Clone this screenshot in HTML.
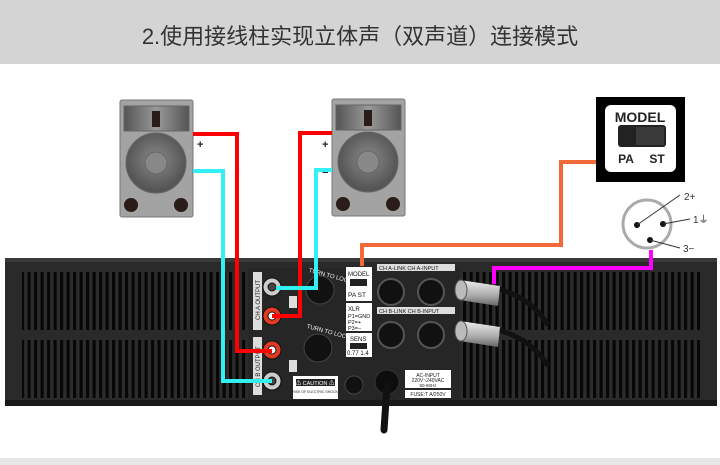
<!DOCTYPE html>
<html><head><meta charset="utf-8"><style>
html,body{margin:0;padding:0;width:720px;height:465px;overflow:hidden;background:#fff}
svg{display:block}
text{font-family:"Liberation Sans","Noto Sans CJK SC",sans-serif}
</style></head><body>
<svg width="720" height="465" viewBox="0 0 720 465" xmlns="http://www.w3.org/2000/svg">
<defs>
<pattern id="vent" x="0" y="0" width="6.5" height="10" patternUnits="userSpaceOnUse">
<rect width="6.5" height="10" fill="#2c2c2c"/><rect x="1.5" width="3.2" height="10" fill="#070707"/>
</pattern>
<radialGradient id="woof" cx="0.5" cy="0.45" r="0.5"><stop offset="0" stop-color="#8a8a8a"/><stop offset="1" stop-color="#555"/></radialGradient>
<linearGradient id="horn" x1="0" x2="1"><stop offset="0" stop-color="#555"/><stop offset="0.5" stop-color="#999"/><stop offset="1" stop-color="#555"/></linearGradient>
<linearGradient id="plug" x1="0" y1="0" x2="0" y2="1"><stop offset="0" stop-color="#eee"/><stop offset="0.6" stop-color="#aaa"/><stop offset="1" stop-color="#666"/></linearGradient>
</defs>
<rect width="720" height="64" fill="#d4d4d4"/>
<text x="360" y="44" font-size="22" fill="#333" text-anchor="middle">2.使用接线柱实现立体声（双声道）连接模式</text>
<rect y="458" width="720" height="7" fill="#e6e6e6"/>

<!-- speakers -->
<g id="spk">
<rect x="120" y="100" width="73" height="117" rx="2" fill="#a3a3a3" stroke="#777"/>
<rect x="124" y="106" width="65" height="25" fill="url(#horn)" stroke="#666"/>
<rect x="152" y="111" width="8" height="16" fill="#2a1c18"/>
<circle cx="156" cy="163" r="30" fill="url(#woof)" stroke="#666"/>
<circle cx="156" cy="163" r="11" fill="#888" stroke="#666"/>
<circle cx="131" cy="205" r="7" fill="#2a1c18"/><circle cx="181" cy="205" r="7" fill="#2a1c18"/>
</g>
<use href="#spk" x="212" y="-1"/>
<text x="197" y="148" font-size="11" font-weight="bold" fill="#222">+</text>
<text x="197" y="174" font-size="11" font-weight="bold" fill="#222">−</text>
<text x="322" y="148" font-size="11" font-weight="bold" fill="#222">+</text>
<text x="322" y="176" font-size="11" font-weight="bold" fill="#222">−</text>

<!-- model box -->
<rect x="596" y="97" width="89" height="85" fill="#000"/>
<rect x="605" y="105" width="71" height="67" rx="6" fill="#fff"/>
<text x="640" y="122" font-size="14" font-weight="bold" text-anchor="middle" fill="#222">MODEL</text>
<rect x="618" y="125" width="48" height="22" rx="3" fill="#222"/>
<rect x="636" y="127" width="28" height="18" fill="#3a3a3a"/>
<text x="626" y="163" font-size="12" font-weight="bold" text-anchor="middle" fill="#222">PA</text>
<text x="657" y="163" font-size="12" font-weight="bold" text-anchor="middle" fill="#222">ST</text>

<!-- xlr pinout -->
<circle cx="647" cy="224" r="24" fill="#fff" stroke="#aaa" stroke-width="3"/>
<circle cx="637" cy="225" r="3" fill="#111"/><circle cx="663" cy="224" r="3" fill="#111"/><circle cx="650" cy="240" r="3" fill="#111"/>
<line x1="637" y1="225" x2="680" y2="195" stroke="#333"/><line x1="663" y1="224" x2="690" y2="219" stroke="#333"/><line x1="650" y1="240" x2="680" y2="248" stroke="#333"/>
<text x="684" y="200" font-size="10" fill="#333">2+</text>
<text x="693" y="223" font-size="10" fill="#333">1⏚</text>
<text x="683" y="252" font-size="10" fill="#333">3−</text>

<!-- chassis -->
<rect x="5" y="258" width="712" height="148" fill="#2a2a2a"/>
<rect x="5" y="258" width="712" height="4" fill="#3a3a3a"/>
<rect x="5" y="400" width="712" height="6" fill="#1a1a1a"/>
<rect x="22" y="272" width="226" height="58" fill="url(#vent)"/>
<rect x="22" y="340" width="226" height="58" fill="url(#vent)"/>
<rect x="460" y="272" width="240" height="58" fill="url(#vent)"/>
<rect x="460" y="340" width="240" height="58" fill="url(#vent)"/>
<rect x="248" y="268" width="212" height="132" fill="#262626"/>

<!-- output terminal labels -->
<rect x="253" y="272" width="9" height="58" fill="#ddd"/>
<rect x="253" y="337" width="9" height="58" fill="#ddd"/>
<text transform="translate(260,320) rotate(-90)" font-size="6" fill="#222">CH A OUTPUT</text>
<text transform="translate(260,387) rotate(-90)" font-size="6" fill="#222">CH B OUTPUT</text>
<g stroke="#111" stroke-width="1">
<circle cx="272" cy="287" r="9" fill="#ccc"/><circle cx="272" cy="287" r="4" fill="#444"/>
<circle cx="272" cy="316" r="9" fill="#e23a20"/><circle cx="272" cy="316" r="4" fill="#fff"/>
<circle cx="272" cy="350" r="9" fill="#e23a20"/><circle cx="272" cy="350" r="4" fill="#fff"/>
<circle cx="272" cy="381" r="9" fill="#ccc"/><circle cx="272" cy="381" r="4" fill="#444"/>
</g>
<rect x="289" y="296" width="8" height="12" fill="#ddd"/><rect x="289" y="360" width="8" height="12" fill="#ddd"/>
<!-- speakon -->
<circle cx="320" cy="290" r="14" fill="#111" stroke="#444"/>
<circle cx="318" cy="348" r="14" fill="#111" stroke="#444"/>
<text x="308" y="275" font-size="6" fill="#eee" transform="rotate(15 320 275)">TURN TO LOCK</text>
<text x="306" y="331" font-size="6" fill="#eee" transform="rotate(15 318 331)">TURN TO LOCK</text>
<!-- small panels -->
<rect x="346" y="267" width="26" height="34" fill="#fff"/>
<text x="348" y="276" font-size="6" fill="#111">MODEL</text>
<rect x="350" y="279" width="17" height="7" fill="#222"/>
<text x="348" y="297" font-size="6.5" fill="#111">PA  ST</text>
<rect x="346" y="303" width="26" height="28" fill="#fff"/>
<text x="348" y="311" font-size="6" fill="#111">XLR</text>
<text x="348" y="318" font-size="5.5" fill="#111">P1=GND</text>
<text x="348" y="324" font-size="5.5" fill="#111">P2=+</text>
<text x="348" y="330" font-size="5.5" fill="#111">P3=−</text>
<rect x="346" y="333" width="26" height="24" fill="#fff"/>
<text x="350" y="341" font-size="6" fill="#111">SENS</text>
<rect x="350" y="343" width="17" height="6" fill="#222"/>
<text x="347" y="355" font-size="6" fill="#111">0.77 1.4</text>
<rect x="377" y="264" width="78" height="7" fill="#ddd"/>
<text x="379" y="270" font-size="5.5" fill="#222">CH A-LINK   CH A-INPUT</text>
<rect x="377" y="307" width="78" height="7" fill="#ddd"/>
<text x="379" y="313" font-size="5.5" fill="#222">CH B-LINK   CH B-INPUT</text>
<g fill="#111" stroke="#555" stroke-width="2">
<circle cx="391" cy="292" r="13"/><circle cx="431" cy="292" r="13"/>
<circle cx="391" cy="335" r="13"/><circle cx="431" cy="335" r="13"/>
</g>
<rect x="293" y="376" width="45" height="23" fill="#fff"/>
<rect x="296" y="379" width="39" height="7" fill="#222"/>
<text x="315" y="385" font-size="5.5" fill="#fff" text-anchor="middle">⚠ CAUTION ⚠</text>
<text x="315" y="393" font-size="3.5" fill="#222" text-anchor="middle">RISK OF ELECTRIC SHOCK</text>
<circle cx="354" cy="385" r="9" fill="#111" stroke="#444"/>
<rect x="405" y="370" width="46" height="18" fill="#fff"/>
<text x="428" y="377" font-size="5" text-anchor="middle" fill="#222">AC-INPUT</text>
<text x="428" y="382" font-size="5" text-anchor="middle" fill="#222">220V~240VAC</text>
<text x="428" y="387" font-size="4.5" text-anchor="middle" fill="#222">50-60Hz</text>
<rect x="405" y="390" width="46" height="8" fill="#fff"/>
<text x="428" y="396" font-size="5" text-anchor="middle" fill="#222">FUSE:T A/250V</text>
<!-- power cable -->
<circle cx="387" cy="382" r="12" fill="#0d0d0d" stroke="#333"/>
<path d="M387 385 L384 430" stroke="#111" stroke-width="7" stroke-linecap="round"/>
<!-- xlr plugs -->
<g>
<path d="M490 287 Q530 295 548 325" stroke="#111" stroke-width="5" fill="none"/>
<path d="M460 280 L500 286 L498 306 L460 300 Z" fill="url(#plug)"/>
<ellipse cx="461" cy="290" rx="6" ry="10" fill="#bbb" stroke="#555"/>
<path d="M490 328 Q530 336 548 366" stroke="#111" stroke-width="5" fill="none"/>
<path d="M460 321 L500 327 L498 347 L460 341 Z" fill="url(#plug)"/>
<ellipse cx="461" cy="331" rx="6" ry="10" fill="#bbb" stroke="#555"/>
</g>

<!-- wires -->
<g fill="none" stroke-width="4" stroke-linejoin="miter">
<polyline points="193,134 237,134 237,351 272,351" stroke="#ff0000"/>
<polyline points="193,171 223,171 223,381 272,381" stroke="#33f0f4"/>
<polyline points="332,133 300,133 300,316 272,316" stroke="#ff0000"/>
<polyline points="332,170 316,170 316,288 276,288" stroke="#33f0f4"/>
<polyline points="596,162 561,162 561,245 362,245 362,266" stroke="#f26a3a"/>
<polyline points="651,250 651,268 494,268 494,284" stroke="#ff00ff"/>
</g>
</svg>
</body></html>
